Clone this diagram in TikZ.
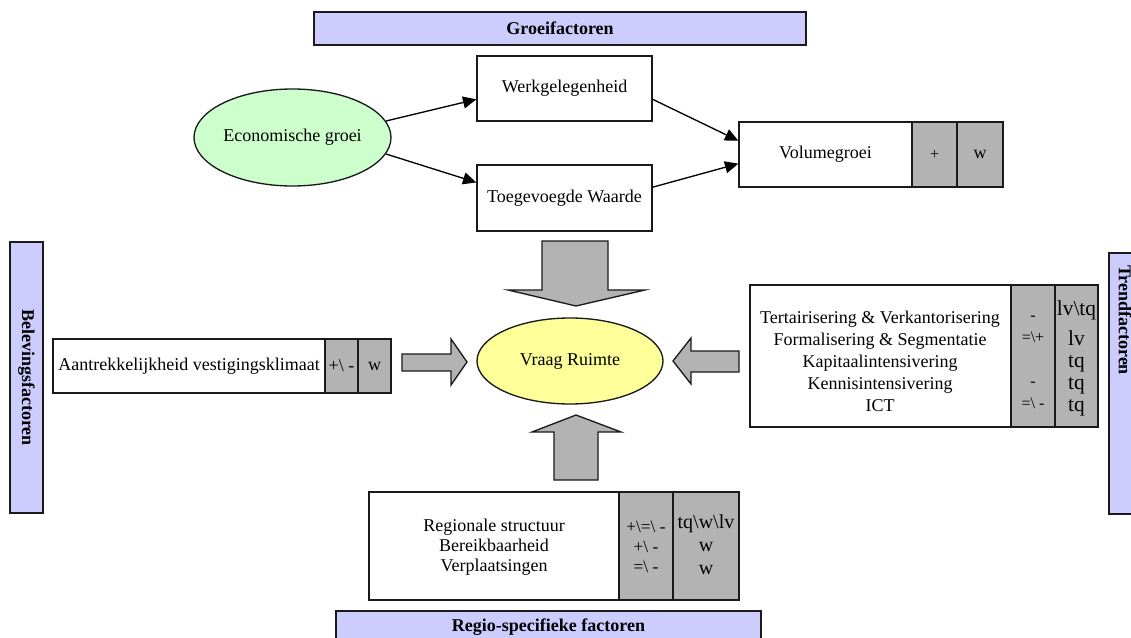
\documentclass[tikz,border=0pt]{standalone}
\usepackage{fontspec}
\setmainfont{Liberation Serif}
\usetikzlibrary{fit,arrows.meta,shapes.geometric}
\definecolor{lav}{HTML}{CCCCFF}
\definecolor{grn}{HTML}{CCFFCC}
\definecolor{yel}{HTML}{FFFF99}
\definecolor{gry}{HTML}{B3B3B3}
\definecolor{edge}{HTML}{1A1A1A}
\begin{document}
\begin{tikzpicture}[x=0.75pt,y=-0.75pt,
  every node/.style={font=\fontsize{13.5}{16.5}\selectfont},
  sz/.style 2 args={minimum width=#1*0.75pt, minimum height=#2*0.75pt},
  wbox/.style={draw=edge, line width=1pt, fill=white, inner sep=0pt},
  gbox/.style={draw=edge, line width=1pt, fill=gry, inner sep=0pt},
  bar/.style={draw=edge, line width=1pt, fill=lav, inner sep=0pt},
  lbl/.style={font=\bfseries\fontsize{13.5}{16}\selectfont},
  sml/.style={font=\fontsize{12}{16.5}\selectfont, align=center},
  big/.style={font=\fontsize{16}{16.5}\selectfont, align=center},
  txt/.style={align=center, inner sep=0pt},
  oval/.style={ellipse, draw=edge, line width=1pt, inner sep=0pt},
  conn/.style={line width=1pt, draw=black, -{Triangle[length=10pt,width=9pt]}},
  blk/.style={draw=edge, line width=1pt, fill=gry, line join=miter}]
\fill[white] (0,0) rectangle (1131,638);
\useasboundingbox (0,0) rectangle (1131,638);

% Groeifactoren
\node[bar, sz={492}{33}, lbl] (gf) at (560,28.5) {Groeifactoren};
\node[oval, fill=grn, minimum width=147.75pt, minimum height=72.75pt] (eg) at (292.5,137.5) {Economische groei};
\node[wbox, sz={175}{65}] (wk) at (564.5,88.5) {Werkgelegenheid};
\node[wbox, sz={175}{66}] (tw) at (564.5,198) {Toegevoegde Waarde};
\node[wbox, sz={173}{65}] (vg) at (825.5,154.5) {Volumegroei};
\node[gbox, sz={45}{65}, sml] (vg1) at (934.5,154.5) {+};
\node[gbox, sz={46}{65}] (vg2) at (980,154.5) {w};

\draw[conn] (eg.10) -- (wk.187.5);
\draw[conn] (eg.-10) -- (tw.170);
\draw[conn] (wk.-7.5) -- (vg.171.8);
\draw[conn] (tw.7.2) -- (vg.186.3);

% centre
\node[oval, fill=yel, minimum width=139.5pt, minimum height=64.5pt] (vr) at (570,361) {Vraag Ruimte};

% block arrows
\draw[blk] (542,241) -- (608,241) -- (608,290) -- (645,290) -- (576,306) -- (508,290) -- (542,290) -- cycle;
\draw[blk] (554,480) -- (598,480) -- (598,432) -- (621,432) -- (576,415) -- (532,432) -- (554,432) -- cycle;
\draw[blk] (402,354) -- (451,354) -- (451,339) -- (467,362) -- (451,385) -- (451,371) -- (402,371) -- cycle;
\draw[blk] (739,351) -- (691,351) -- (691,338) -- (673,361) -- (691,384) -- (691,372) -- (739,372) -- cycle;

% Belevingsfactoren
\node[bar, sz={33}{271}] (bf) at (26.5,377.5) {};
\node[lbl, rotate=-90] (bft) at (bf.center) {Belevingsfactoren};
\node[wbox, sz={272}{54}] (av) at (189,366) {Aantrekkelijkheid vestigingsklimaat};
\node[gbox, sz={33}{54}, font=\fontsize{13.5}{16.5}\selectfont] (av1) at (341.5,366) {+\textbackslash\ -};
\node[gbox, sz={33}{54}] (av2) at (374.5,366) {w};

% Trendfactoren
\node[wbox, fit={(750,285)(1011,427)}] (tr) {};
\node[gbox, fit={(1011,285)(1055,427)}] (tr1) {};
\node[gbox, fit={(1055,285)(1098,427)}] (tr2) {};
\node[txt] (trt) at (880,361.5) {Tertairisering \& Verkantorisering\\Formalisering \& Segmentatie\\Kapitaalintensivering\\Kennisintensivering\\ICT};
\node[txt, sml, inner sep=0pt] (tr1t) at (1033,362) {-\\=\textbackslash+\\\mbox{}\\-\\=\textbackslash\ -};
\node[txt, big, inner sep=0pt] (tr2t) at (1076.5,358) {lv\textbackslash tq\\[6pt]lv\\tq\\tq\\tq};
\node[bar, fit={(1109,253)(1142,514)}] (tf) {};
\node[lbl, rotate=-90] (tft) at (1125,320) {Trendfactoren};

% Regio
\node[wbox, fit={(369,492)(619,600)}] (rg) {};
\node[gbox, fit={(619,492)(673,600)}] (rg1) {};
\node[gbox, fit={(673,492)(739,600)}] (rg2) {};
\node[txt, font=\fontsize{13.5}{15}\selectfont] (rgt) at (494,547) {Regionale structuur\\Bereikbaarheid\\Verplaatsingen};
\node[txt, font=\fontsize{13}{15}\selectfont] (rg1t) at (646,547) {+\textbackslash=\textbackslash\ -\\+\textbackslash\ -\\=\textbackslash\ -};
\node[txt, font=\fontsize{15}{17.25}\selectfont] (rg2t) at (706,545) {tq\textbackslash w\textbackslash lv\\w\\w};
\node[bar, fit={(336,611)(761,643)}] (rs) {};
\node[lbl] (rst) at (548.5,627) {Regio-specifieke factoren};
\end{tikzpicture}
\end{document}
